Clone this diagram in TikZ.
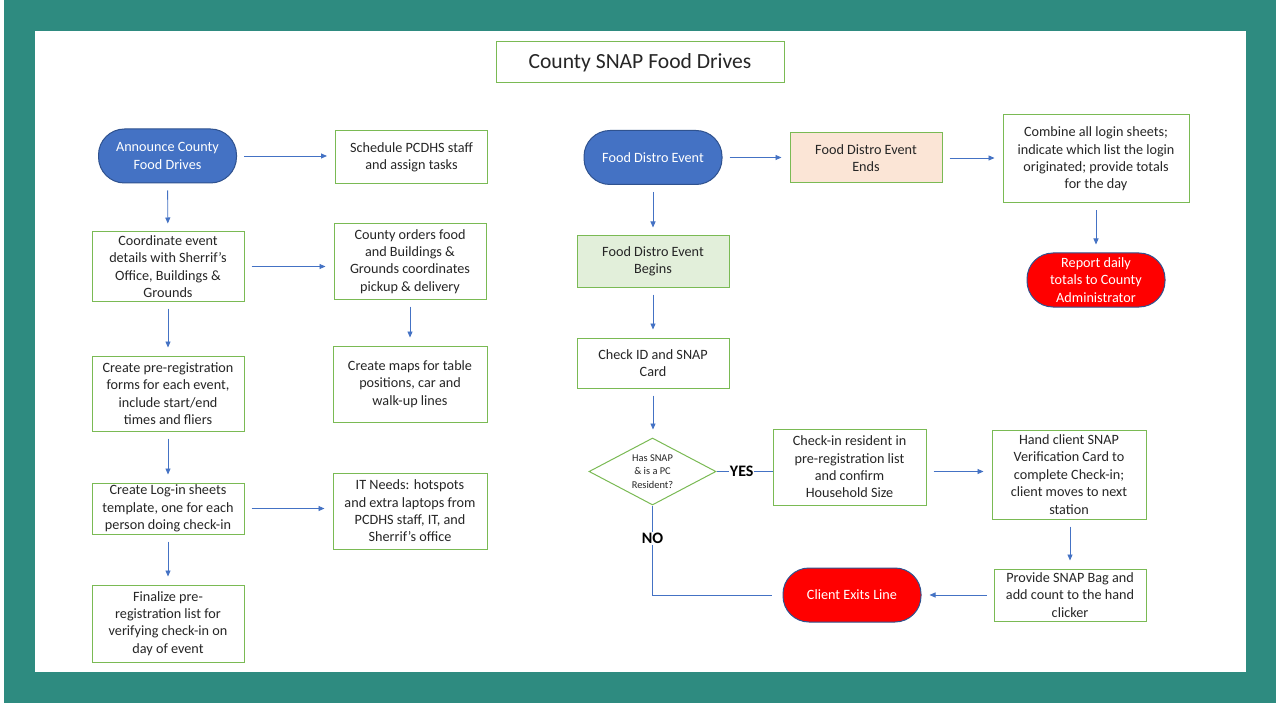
\documentclass[tikz,border=0pt]{standalone}
\usepackage{fontspec}
\setmainfont{Carlito}
\definecolor{FrameTeal}{RGB}{46,139,128}
\definecolor{BoxLine}{RGB}{122,186,84}
\definecolor{StartFill}{RGB}{68,114,196}
\definecolor{StartLine}{RGB}{47,82,143}
\definecolor{StopFill}{RGB}{255,0,0}
\definecolor{EndsFill}{RGB}{251,229,214}
\definecolor{BeginsFill}{RGB}{226,239,218}
\definecolor{LinkBlue}{RGB}{68,114,196}
\colorlet{BoxText}{black!85}
\usetikzlibrary{arrows.meta, shapes.geometric}

\tikzset{
  boxtext/.style={align=center, text=BoxText, inner sep=1pt,
    font=\fontsize{14.2}{17.4}\selectfont},
  stepbox/.style={boxtext, draw=BoxLine, line width=1pt, fill=white},
  terminal/.style={boxtext, draw=StartLine, line width=1pt, text=white,
    rounded corners=26pt, minimum width=138pt, minimum height=54pt},
  decision/.style={diamond, draw=BoxLine, line width=1pt, fill=white,
    aspect=1.9, inner sep=0pt, minimum width=127pt, minimum height=67pt,
    align=center, text=BoxText, font=\fontsize{10.4}{13.3}\selectfont},
  link/.style={draw=LinkBlue, line width=0.9pt, shorten <=7pt, shorten >=8pt,
    -{Triangle[length=6pt,width=5pt]}},
  plainlink/.style={draw=LinkBlue, line width=0.9pt},
  answer/.style={fill=white, inner sep=1pt, text=black,
    font=\fontsize{16}{18}\selectfont\bfseries},
}

\begin{document}
\begin{tikzpicture}[x=1pt, y=-1pt]

\useasboundingbox (0,0) rectangle (1276,703);
\fill[white] (0,0) rectangle (1276,703);
\fill[FrameTeal] (4,0) rectangle (1276,703);
\fill[white] (35,31) rectangle (1246,672);

\node[stepbox, minimum width=288pt, minimum height=41pt,
  font=\fontsize{21.6}{24}\selectfont] (title) at (640,62.5) {County SNAP Food Drives};

% planning column
\node[terminal, fill=StartFill] (announce) at (167.5,156) {Announce County\\Food Drives};
\node[stepbox, minimum width=152pt, minimum height=53pt] (schedule) at (411.5,157.5)
  {Schedule PCDHS staff\\and assign tasks};
\node[stepbox, minimum width=152pt, minimum height=69pt] (coordinate) at (168,266.5)
  {Coordinate event\\details with Sherrif’s\\Office, Buildings \&\\Grounds};
\node[stepbox, minimum width=152pt, minimum height=75pt] (orders) at (410,261.5)
  {County orders food\\and Buildings \&\\Grounds coordinates\\pickup \& delivery};
\node[stepbox, minimum width=154pt, minimum height=76pt] (maps) at (410,384)
  {Create maps for table\\positions, car and\\walk-up lines};
\node[stepbox, minimum width=152pt, minimum height=75pt] (preform) at (168,393.5)
  {Create pre-registration\\forms for each event,\\include start/end\\times and fliers};
\node[stepbox, minimum width=152pt, minimum height=51pt] (loginsheet) at (168,508.5)
  {Create Log-in sheets\\template, one for each\\person doing check-in};
\node[stepbox, minimum width=154pt, minimum height=76pt] (itneeds) at (410,511)
  {IT Needs: hotspots\\and extra laptops from\\PCDHS staff, IT, and\\Sherrif’s office};
\node[stepbox, minimum width=152pt, minimum height=77pt] (finalize) at (168,623.5)
  {Finalize pre-\\registration list for\\verifying check-in on\\day of event};

% event column
\node[terminal, fill=StartFill] (distro) at (653,157.5) {Food Distro Event};
\node[stepbox, fill=EndsFill, minimum width=152pt, minimum height=50pt] (ends) at (866,158)
  {Food Distro Event\\Ends};
\node[stepbox, minimum width=186pt, minimum height=88pt] (combine) at (1096,159)
  {Combine all login sheets;\\indicate which list the login\\originated; provide totals\\for the day};
\node[terminal, fill=StopFill] (report) at (1096,280)
  {Report daily\\totals to County\\Administrator};
\node[stepbox, fill=BeginsFill, minimum width=152pt, minimum height=51pt] (begins) at (653,261.5)
  {Food Distro Event\\Begins};
\node[stepbox, minimum width=152pt, minimum height=50pt] (checkid) at (653,363)
  {Check ID and SNAP\\Card};
\node[decision] (resident) at (652.5,471.5) {Has SNAP\\\& is a PC\\Resident?};
\node[stepbox, minimum width=153pt, minimum height=76pt] (checkin) at (849.5,467)
  {Check-in resident in\\pre-registration list\\and confirm\\Household Size};
\node[stepbox, minimum width=154pt, minimum height=89pt] (handcard) at (1069,474.5)
  {Hand client SNAP\\Verification Card to\\complete Check-in;\\client moves to next\\station};
\node[stepbox, minimum width=152pt, minimum height=52pt] (bag) at (1070,595)
  {Provide SNAP Bag and\\add count to the hand\\clicker};
\node[terminal, fill=StopFill] (exits) at (852,595) {Client Exits Line};

\draw[link] (announce.east) -- (announce.east -| schedule.west);
\draw[link] (announce) -- (coordinate);
\draw[link] (coordinate.east) -- (coordinate.east -| orders.west);
\draw[link] (orders) -- (maps);
\draw[link] (coordinate) -- (preform);
\draw[link] (preform) -- (loginsheet);
\draw[link] (loginsheet.east) -- (loginsheet.east -| itneeds.west);
\draw[link] (loginsheet) -- (finalize);

\draw[link] (distro.east) -- (distro.east -| ends.west);
\draw[link] (ends.east) -- (ends.east -| combine.west);
\draw[link] (combine.south) -- (report.north);
\draw[link] (distro) -- (begins);
\draw[link] (begins) -- (checkid);
\draw[link] (checkid.south) -- (checkid.south |- resident.north);
\draw[link] (checkin.east |- resident) -- (handcard.west |- resident);
\draw[link] (handcard.south -| bag) -- (bag.north);
\draw[link] (bag) -- (exits);

\draw[plainlink] (resident.east) -- node[answer, pos=0.45] {YES} (checkin.west |- resident);
\draw[plainlink, shorten >=11pt] (resident.south)
  -- node[answer, pos=0.37] {NO} (resident.south |- exits) -- (exits.west);

\end{tikzpicture}
\end{document}
